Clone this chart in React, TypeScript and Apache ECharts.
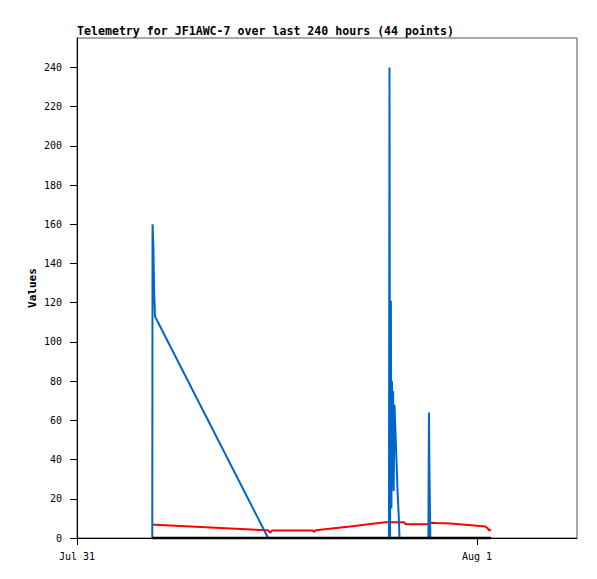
import React, { useEffect, useRef } from "react";
import * as echarts from "echarts";

const titleText = "Telemetry for JF1AWC-7 over last 240 hours (44 points)";
const yAxisName = "Values";

// timestamps (month-day hh:mm)
const times = [
  "07-31 04:31", "07-31 04:32", "07-31 04:35", "07-31 04:38", "07-31 04:41",
  "07-31 11:28", "07-31 11:35", "07-31 11:42",
  "07-31 14:10", "07-31 14:13", "07-31 14:20",
  "07-31 16:23", "07-31 18:29",
  "07-31 18:43", "07-31 18:45", "07-31 18:47", "07-31 18:50", "07-31 18:52",
  "07-31 18:54", "07-31 18:56", "07-31 18:58", "07-31 19:00", "07-31 19:03",
  "07-31 19:05", "07-31 19:08", "07-31 19:11", "07-31 19:14", "07-31 19:18",
  "07-31 19:21",
  "07-31 19:37", "07-31 19:44", "07-31 20:28",
  "07-31 21:05", "07-31 21:07", "07-31 21:09", "07-31 21:12",
  "07-31 21:32", "07-31 22:23", "07-31 23:17",
  "08-01 00:00", "08-01 00:29", "08-01 00:38", "08-01 00:44", "08-01 00:50",
];

const blueValues = [
  0, 160, 148, 124, 113,
  0, 0, 0,
  0, 0, 0,
  0, 0,
  0, 240, 0, 121, 15,
  80, 26, 75, 24, 68,
  60, 48, 36, 24, 12,
  0,
  0, 0, 0,
  0, 64, 32, 0,
  0, 0, 0,
  0, 0, 0, 0, 0,
];

const redValues = [
  6.8, 6.8, 6.8, 6.8, 6.8,
  3.9, 2.7, 3.8,
  3.8, 3.0, 3.9,
  5.9, 8.0,
  8.0, 8.0, 8.0, 8.0, 8.0,
  8.0, 8.0, 8.0, 8.0, 8.0,
  8.0, 8.0, 8.0, 8.0, 8.0,
  8.0,
  8.0, 7.0, 7.0,
  7.0, 7.0, 7.4, 7.8,
  7.6, 7.4, 6.8,
  6.3, 5.9, 5.0, 3.8, 4.4,
];

const blackValues = times.map(() => 0);

const xTickValues = [0, 24];
const xTickLabels = ["Jul 31", "Aug 1"];
const yTickValues = [0, 20, 40, 60, 80, 100, 120, 140, 160, 180, 200, 220, 240];

function toHours(t: string): number {
  const [md, hm] = t.split(" ");
  const day = md === "08-01" ? 24 : 0;
  const [h, m] = hm.split(":").map(Number);
  return day + h + m / 60;
}

const xs = times.map(toHours);

export default function App() {
  const ref = useRef<HTMLDivElement>(null);
  useEffect(() => {
    if (!ref.current) return;
    const chart = echarts.init(ref.current, null, { renderer: "svg" });
    const font = "DejaVu Sans Mono";
    const mk = (vals: number[]) => xs.map((x, i) => [x, vals[i]]);
    chart.setOption({
      animation: false,
      backgroundColor: "#ffffff",
      title: {
        text: titleText,
        left: 77,
        top: 25,
        padding: 0,
        textStyle: { fontFamily: font, fontSize: 11.6, fontWeight: "bold", color: "#000" },
      },
      grid: {
        left: 77,
        top: 38,
        width: 500,
        height: 500,
        show: true,
        borderColor: "#555",
        borderWidth: 1,
        backgroundColor: "#fff",
      },
      xAxis: {
        type: "value",
        min: 0,
        max: 30,
        axisLine: { show: true, lineStyle: { color: "#000", width: 1 } },
        axisTick: { show: true, inside: false, length: 7, customValues: xTickValues, lineStyle: { color: "#000" } },
        axisLabel: {
          customValues: xTickValues,
          formatter: (v: number) => {
            const i = xTickValues.indexOf(v);
            return i >= 0 ? xTickLabels[i] : "";
          },
          margin: 13,
          color: "#000",
          fontFamily: font,
          fontSize: 10,
        },
        splitLine: { show: false },
      },
      yAxis: {
        type: "value",
        min: 0,
        max: 255,
        name: yAxisName,
        nameLocation: "middle",
        nameGap: 45,
        nameMoveOverlap: false,
        nameTextStyle: { fontFamily: font, fontSize: 11, fontWeight: "bold", color: "#000", verticalAlign: "middle" },
        axisLine: { show: true, lineStyle: { color: "#000", width: 1 } },
        axisTick: { show: true, inside: false, length: 7, customValues: yTickValues, lineStyle: { color: "#000" } },
        axisLabel: {
          customValues: yTickValues,
          margin: 15,
          color: "#000",
          fontFamily: font,
          fontSize: 10,
        },
        splitLine: { show: false },
      },
      series: [
        {
          type: "line",
          data: mk(redValues),
          showSymbol: false,
          lineStyle: { color: "#ff0000", width: 2 },
          itemStyle: { color: "#ff0000" },
          z: 2,
        },
        {
          type: "line",
          data: mk(blueValues),
          showSymbol: false,
          lineStyle: { color: "#0066cc", width: 2 },
          itemStyle: { color: "#0066cc" },
          z: 3,
        },
        {
          type: "line",
          data: mk(blackValues),
          showSymbol: false,
          clip: false,
          lineStyle: { color: "#000000", width: 2.5 },
          itemStyle: { color: "#000000" },
          z: 4,
        },
      ],
    });
    return () => chart.dispose();
  }, []);
  return (
    <div
      ref={ref}
      style={{ position: "absolute", left: 0, top: 0, width: 597, height: 579 }}
    />
  );
}
